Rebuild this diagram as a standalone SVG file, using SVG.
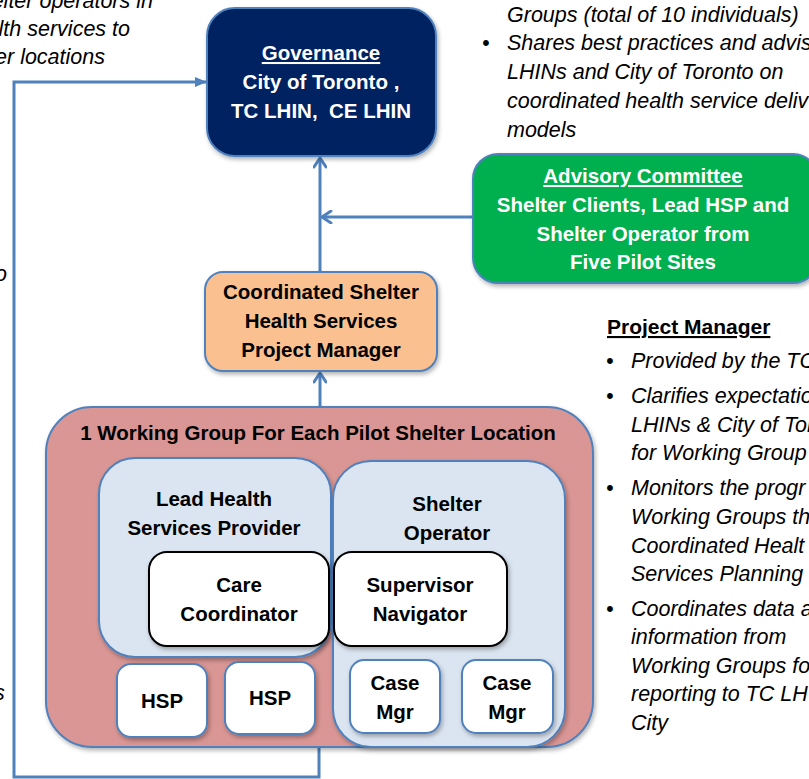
<svg xmlns="http://www.w3.org/2000/svg" width="809" height="779" viewBox="0 0 809 779">
<defs>
<style>
.b{font-family:"Liberation Sans",Arial,sans-serif;font-weight:bold;font-size:20.5px;text-anchor:middle}
.w{fill:#ffffff}
.k{fill:#000000}
.it{font-family:"Liberation Sans",Arial,sans-serif;font-style:italic;font-size:21.5px;fill:#000000}
.u{text-decoration:underline}
.box{stroke:#4f81bd;stroke-width:2}
.wb{fill:#ffffff;stroke:#000000;stroke-width:2}
.conn{fill:none;stroke:#4f81bd;stroke-width:3}
</style>
<filter id="sh" x="-10%" y="-10%" width="130%" height="130%">
<feDropShadow dx="1.5" dy="2.5" stdDeviation="2" flood-color="#000" flood-opacity="0.3"/>
</filter>
<marker id="openArr" viewBox="0 0 14 14" refX="12" refY="7" markerWidth="14" markerHeight="14" orient="auto" markerUnits="userSpaceOnUse">
<path d="M3,1 L12,7 L3,13" fill="none" stroke="#4f81bd" stroke-width="3" stroke-linecap="round" stroke-linejoin="round"/>
</marker>
<marker id="fillArr" viewBox="0 0 12 10" refX="11" refY="5" markerWidth="12" markerHeight="10" orient="auto" markerUnits="userSpaceOnUse">
<path d="M0,0 L12,5 L0,10 z" fill="#4f81bd"/>
</marker>
</defs>
<rect width="809" height="779" fill="#ffffff"/>

<g id="side-text-left">
<text class="it" x="153" y="8" text-anchor="end">elter operators in</text>
<text class="it" x="130" y="36" text-anchor="end">lth services to</text>
<text class="it" x="105" y="64" text-anchor="end">er locations</text>
<text class="it" x="-5" y="281">o</text>
<text class="it" x="-6" y="700">s</text>
</g>

<g id="side-text-top-right">
<text class="it" x="507" y="22">Groups (total of 10 individuals)</text>
<text class="it" x="482" y="50">•</text>
<text class="it" x="507" y="50">Shares best practices and advise</text>
<text class="it" x="507" y="79">LHINs and City of Toronto on</text>
<text class="it" x="507" y="108">coordinated health service deliv</text>
<text class="it" x="507" y="137">models</text>
</g>

<g id="side-text-project-manager">
<text class="b k u" x="607" y="334" style="text-anchor:start;font-size:21px">Project Manager</text>
<text class="it" x="606" y="368">•</text>
<text class="it" x="631" y="368">Provided by the TC</text>
<text class="it" x="606" y="403">•</text>
<text class="it" x="631" y="403">Clarifies expectatio</text>
<text class="it" x="631" y="432">LHINs &amp; City of Tor</text>
<text class="it" x="631" y="460">for Working Group</text>
<text class="it" x="606" y="495">•</text>
<text class="it" x="631" y="495">Monitors the progr</text>
<text class="it" x="631" y="524">Working Groups th</text>
<text class="it" x="631" y="553">Coordinated Healt</text>
<text class="it" x="631" y="581">Services Planning</text>
<text class="it" x="606" y="616">•</text>
<text class="it" x="631" y="616">Coordinates data a</text>
<text class="it" x="631" y="644">information from</text>
<text class="it" x="631" y="673">Working Groups fo</text>
<text class="it" x="631" y="701">reporting to TC LH</text>
<text class="it" x="631" y="730">City</text>
</g>

<g id="connectors">
<path class="conn" d="M319,748 V777 H14 V82 H206" marker-end="url(#fillArr)"/>
<path class="conn" d="M320,406 V373" marker-end="url(#openArr)"/>
<path class="conn" d="M320,271 V158" marker-end="url(#openArr)"/>
<path class="conn" d="M473,217 H322" marker-end="url(#openArr)"/>
</g>

<g id="governance">
<rect class="box" x="207" y="8" width="229" height="148" rx="28" fill="#002060" filter="url(#sh)"/>
<text class="b w u" x="321" y="60">Governance</text>
<text class="b w" x="321" y="89">City of Toronto ,</text>
<text class="b w" x="321" y="118" style="white-space:pre">TC LHIN,  CE LHIN</text>
</g>

<g id="advisory-committee">
<rect class="box" x="473" y="154" width="345" height="129" rx="25" fill="#00b050" filter="url(#sh)"/>
<text class="b w u" x="643" y="183">Advisory Committee</text>
<text class="b w" x="643" y="212">Shelter Clients, Lead HSP and</text>
<text class="b w" x="643" y="241">Shelter Operator from</text>
<text class="b w" x="643" y="269">Five Pilot Sites</text>
</g>

<g id="project-manager">
<rect class="box" x="205" y="272" width="232" height="99" rx="18" fill="#fac090" filter="url(#sh)"/>
<text class="b k" x="321" y="299">Coordinated Shelter</text>
<text class="b k" x="321" y="328">Health Services</text>
<text class="b k" x="321" y="357">Project Manager</text>
</g>

<g id="working-group">
<rect class="box" x="46" y="407" width="547" height="340" rx="46" fill="#d99694" filter="url(#sh)"/>
<text class="b k" x="318" y="440">1 Working Group For Each Pilot Shelter Location</text>
</g>

<g id="lead-hsp">
<rect class="box" x="99" y="458" width="232" height="199" rx="36" fill="#dbe5f1" filter="url(#sh)"/>
<text class="b k" x="214" y="506">Lead Health</text>
<text class="b k" x="214" y="535">Services Provider</text>
</g>

<g id="shelter-operator">
<rect class="box" x="333" y="461" width="232" height="286" rx="38" fill="#dbe5f1" filter="url(#sh)"/>
<text class="b k" x="447" y="511">Shelter</text>
<text class="b k" x="447" y="540">Operator</text>
</g>

<g id="care-coordinator">
<rect class="wb" x="149" y="552" width="180" height="94" rx="18" filter="url(#sh)"/>
<text class="b k" x="239" y="592">Care</text>
<text class="b k" x="239" y="621">Coordinator</text>
</g>

<g id="supervisor-navigator">
<rect class="wb" x="334" y="552" width="173" height="94" rx="18" filter="url(#sh)"/>
<text class="b k" x="420" y="592">Supervisor</text>
<text class="b k" x="420" y="621">Navigator</text>
</g>

<g id="hsp-1">
<rect class="box" x="117" y="664" width="90" height="73" rx="14" fill="#ffffff" filter="url(#sh)"/>
<text class="b k" x="162" y="708">HSP</text>
</g>

<g id="hsp-2">
<rect class="box" x="225" y="662" width="90" height="72" rx="14" fill="#ffffff" filter="url(#sh)"/>
<text class="b k" x="270" y="705">HSP</text>
</g>

<g id="case-mgr-1">
<rect class="box" x="350" y="660" width="90" height="73" rx="14" fill="#ffffff" filter="url(#sh)"/>
<text class="b k" x="395" y="690">Case</text>
<text class="b k" x="395" y="719">Mgr</text>
</g>

<g id="case-mgr-2">
<rect class="box" x="462" y="660" width="91" height="73" rx="14" fill="#ffffff" filter="url(#sh)"/>
<text class="b k" x="507" y="690">Case</text>
<text class="b k" x="507" y="719">Mgr</text>
</g>
</svg>
